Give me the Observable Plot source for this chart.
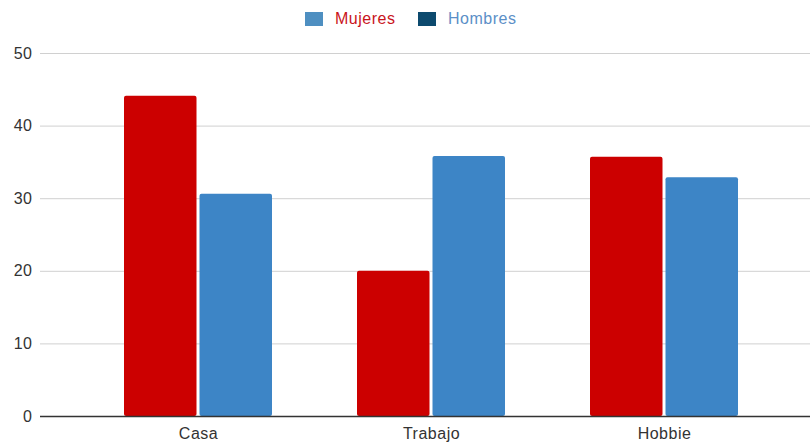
<!DOCTYPE html>
<html>
<head>
<meta charset="utf-8">
<script src="https://cdn.jsdelivr.net/npm/d3@7"></script>
<script src="https://cdn.jsdelivr.net/npm/@observablehq/plot@0.6"></script>
<style>
  html, body { margin: 0; padding: 0; background: #fff; }
  body { width: 810px; height: 442px; overflow: hidden; font-family: "Liberation Sans", Arial, sans-serif; }
  #legend { height: 36px; position: relative; font-size: 16px; letter-spacing: 0.5px; }
  .item { position: absolute; top: 10px; display: flex; align-items: center; }
  .sw { width: 18px; height: 14px; margin-right: 12px; }
  #chart svg { display: block; }
</style>
</head>
<body>
<div id="legend"></div>
<div id="chart"></div>
<script>
const categories = ["Casa", "Trabajo", "Hobbie"];
const mujeres = [44.1, 20.0, 35.7];
const hombres = [30.6, 35.8, 32.9];
const yTicks = [0, 10, 20, 30, 40, 50];
const seriesNames = ["Mujeres", "Hombres"];

const legendInfo = [
  {name: seriesNames[0], swatch: "#4e8fc1", text: "#c9141b", left: 305},
  {name: seriesNames[1], swatch: "#0d4a6e", text: "#5b8fc7", left: 418}
];
const legend = document.getElementById("legend");
for (const l of legendInfo) {
  const d = document.createElement("div");
  d.className = "item";
  d.style.left = l.left + "px";
  d.innerHTML = `<span class="sw" style="background:${l.swatch}"></span><span style="color:${l.text}">${l.name}</span>`;
  legend.appendChild(d);
}

const dataM = categories.map((c, i) => ({cat: c, value: mujeres[i]}));
const dataH = categories.map((c, i) => ({cat: c, value: hombres[i]}));

const half = 74; // band half width
const chart = Plot.plot({
  width: 810,
  height: 406,
  marginTop: 17,
  marginBottom: 26,
  marginLeft: 40,
  marginRight: 0,
  style: {fontFamily: "'Liberation Sans', Arial, sans-serif", fontSize: "16px", letterSpacing: "0.5px", color: "#333"},
  x: {domain: categories, range: [123, 738], paddingInner: 0.366, paddingOuter: 0, label: null, tickSize: 0, tickPadding: 11},
  y: {domain: [0, 50], ticks: yTicks, label: null, tickSize: 0, tickPadding: 8},
  marks: [
    Plot.ruleY(yTicks.filter(t => t > 0), {stroke: "#d0d0d0", strokeWidth: 1}),
    Plot.barY(dataM, {x: "cat", y: "value", fill: "#cc0000", insetRight: half + 1.5, rx: 2}),
    Plot.barY(dataH, {x: "cat", y: "value", fill: "#3d85c6", insetLeft: half + 1.5, rx: 2}),
    Plot.ruleY([0], {stroke: "#333", strokeWidth: 1.3})
  ]
});
document.getElementById("chart").appendChild(chart);
</script>
</body>
</html>
